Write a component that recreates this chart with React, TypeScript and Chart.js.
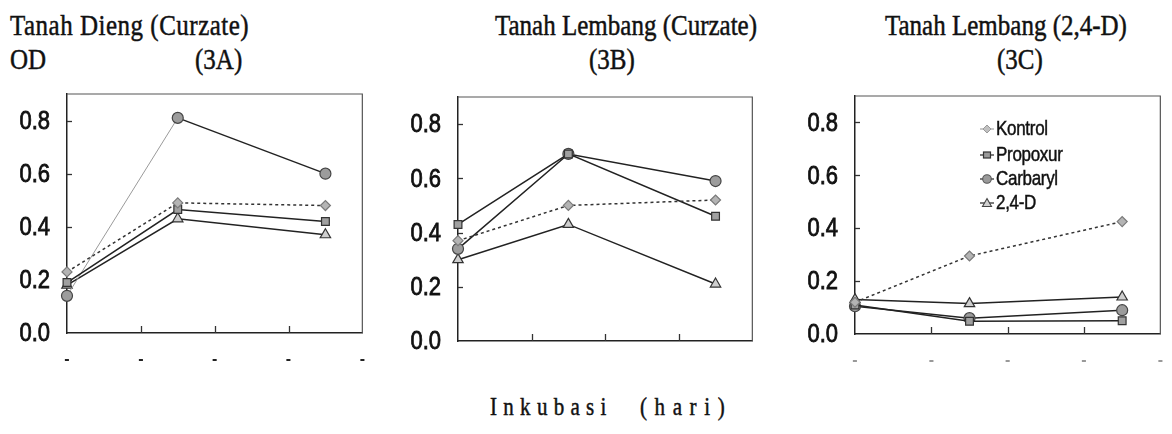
import React, { useEffect, useRef } from 'react';
import { Chart, registerables } from 'chart.js';
Chart.register(...registerables);

// ---- data ----
const days = [0, 1.5, 3.5];
const xTicks = [0, 1, 2, 3, 4];
const xTickLabels = ['-', '-', '-', '-', '-'];
const yTicks = [0, 0.2, 0.4, 0.6, 0.8];
const yTickLabels = ['0.0', '0.2', '0.4', '0.6', '0.8'];
const seriesNames = ['Kontrol', 'Propoxur', 'Carbaryl', '2,4-D'];

const kontrolA = [0.23, 0.49, 0.48];
const propoxurA = [0.19, 0.465, 0.42];
const carbarylA = [0.14, 0.81, 0.6];
const d24A = [0.18, 0.43, 0.37];

const kontrolB = [0.37, 0.5, 0.52];
const propoxurB = [0.43, 0.69, 0.46];
const carbarylB = [0.34, 0.69, 0.59];
const d24B = [0.3, 0.43, 0.21];

const kontrolC = [0.12, 0.295, 0.425];
const propoxurC = [0.11, 0.048, 0.05];
const carbarylC = [0.105, 0.06, 0.09];
const d24C = [0.13, 0.115, 0.14];

type PanelDef = {
  left: number; top: number; w: number; h: number;
  plot: { left: number; right: number; top: number; bottom: number };
  series: number[][];
  xLabelColor: string;
  thinFirst: boolean;
};

const panels: PanelDef[] = [
  { left: 0, top: 84, w: 382, h: 300, plot: { left: 67, right: 368, top: 94, bottom: 333 },
    series: [kontrolA, propoxurA, carbarylA, d24A], xLabelColor: '#222', thinFirst: true },
  { left: 390, top: 84, w: 382, h: 300, plot: { left: 458, right: 759, top: 97, bottom: 341 },
    series: [kontrolB, propoxurB, carbarylB, d24B], xLabelColor: 'rgba(0,0,0,0)', thinFirst: false },
  { left: 780, top: 84, w: 400, h: 300, plot: { left: 855, right: 1169, top: 96, bottom: 334 },
    series: [kontrolC, propoxurC, carbarylC, d24C], xLabelColor: '#999', thinFirst: false },
];

const styles = [
  { pointStyle: 'rectRot', r: 5, bg: '#b4b4b4', bd: '#7a7a7a', dash: [3, 3], line: '#333' },
  { pointStyle: 'rect', r: 5.5, bg: '#a0a0a0', bd: '#333', dash: [], line: '#222' },
  { pointStyle: 'circle', r: 5.5, bg: '#9c9c9c', bd: '#444', dash: [], line: '#222' },
  { pointStyle: 'triangle', r: 6, bg: '#cfcfcf', bd: '#333', dash: [], line: '#222' },
];

const boxPlugin = {
  id: 'boxPlugin',
  beforeDatasetsDraw(chart: any) {
    const { ctx, chartArea: a, scales } = chart;
    ctx.save();
    ctx.strokeStyle = '#555';
    ctx.lineWidth = 1.2;
    ctx.beginPath();
    ctx.moveTo(a.left, a.top);
    ctx.lineTo(a.right, a.top);
    ctx.lineTo(a.right, a.bottom);
    ctx.stroke();
    ctx.strokeStyle = '#333';
    ctx.lineWidth = 1.3;
    const xs = scales.x;
    xTicks.slice(1, -1).forEach((v) => {
      const px = Math.round(xs.getPixelForValue(v)) + 0.5;
      ctx.beginPath();
      ctx.moveTo(px, a.bottom);
      ctx.lineTo(px, a.bottom - 7);
      ctx.stroke();
    });
    const ys = scales.y;
    yTicks.slice(1).forEach((v) => {
      const py = Math.round(ys.getPixelForValue(v)) + 0.5;
      ctx.beginPath();
      ctx.moveTo(a.left, py);
      ctx.lineTo(a.left + 5, py);
      ctx.stroke();
    });
    ctx.restore();
  },
  afterDraw(chart: any) {
    const { ctx, scales } = chart;
    const ys = scales.y;
    ctx.save();
    ctx.fillStyle = '#111';
    ctx.strokeStyle = '#111';
    ctx.lineWidth = 0.7;
    ctx.font = '22px "Liberation Sans", Arial, sans-serif';
    ctx.textAlign = 'right';
    ctx.textBaseline = 'middle';
    yTicks.forEach((v, i) => {
      const py = ys.getPixelForValue(v);
      ctx.save();
      ctx.translate(ys.right - 17, py + 1);
      ctx.scale(1, 1.2);
      ctx.fillText(yTickLabels[i], 0, 0);
      ctx.strokeText(yTickLabels[i], 0, 0);
      ctx.restore();
    });
    ctx.restore();
  },
};

function Panel({ def }: { def: PanelDef }) {
  const ref = useRef<HTMLCanvasElement>(null);
  useEffect(() => {
    if (!ref.current) return;
    const p = def.plot;
    const yW = p.left - def.left;
    const topPad = p.top - def.top;
    const rightPad = def.left + def.w - p.right;
    const xH = def.top + def.h - p.bottom;
    const datasets = def.series.map((vals, si) => {
      const s = styles[si];
      const ds: any = {
        label: seriesNames[si],
        data: days.map((d, i) => ({ x: d, y: vals[i] })),
        borderColor: s.line,
        borderWidth: 1.5,
        borderDash: s.dash,
        pointStyle: s.pointStyle,
        pointRadius: s.r,
        pointBackgroundColor: s.bg,
        pointBorderColor: s.bd,
        pointBorderWidth: 1.2,
        tension: 0,
        clip: false,
      };
      if (def.thinFirst && si === 2) {
        ds.segment = {
          borderColor: (c: any) => (c.p0DataIndex === 0 ? '#9a9a9a' : '#222'),
          borderWidth: (c: any) => (c.p0DataIndex === 0 ? 1 : 1.5),
        };
      }
      return ds;
    });
    const chart = new Chart(ref.current, {
      type: 'line',
      data: { datasets },
      plugins: [boxPlugin],
      options: {
        animation: false,
        responsive: false,
        devicePixelRatio: 1,
        layout: { padding: { left: 0, top: topPad, right: rightPad, bottom: 0 } },
        plugins: { legend: { display: false }, tooltip: { enabled: false } },
        scales: {
          x: {
            type: 'linear',
            min: 0,
            max: 4,
            afterBuildTicks: (s: any) => { s.ticks = xTicks.map((v) => ({ value: v })); },
            afterFit: (s: any) => { s.height = xH; },
            grid: { drawOnChartArea: false, drawTicks: false },
            border: { display: true, color: '#222', width: 1.5 },
            ticks: {
              callback: (_v: any, i: number) => xTickLabels[i],
              color: def.xLabelColor,
              font: { size: 16, weight: 'bold', family: '"Liberation Sans", Arial' },
              padding: 17,
              autoSkip: false,
              maxRotation: 0,
            },
          },
          y: {
            type: 'linear',
            min: 0,
            max: 0.9,
            afterBuildTicks: (s: any) => { s.ticks = yTicks.map((v) => ({ value: v })); },
            afterFit: (s: any) => { s.width = yW; },
            grid: { drawOnChartArea: false, drawTicks: false },
            border: { display: true, color: '#222', width: 1.5 },
            ticks: { display: false },
          },
        },
      } as any,
    });
    return () => chart.destroy();
  }, [def]);
  return (
    <canvas
      ref={ref}
      width={def.w}
      height={def.h}
      style={{ position: 'absolute', left: def.left, top: def.top, width: def.w, height: def.h }}
    />
  );
}

const serif = '"Liberation Serif", "Times New Roman", serif';
const sans = '"Liberation Sans", Arial, sans-serif';

function T({ text, left, top, size = 25, spacing = 0 }: any) {
  return (
    <div
      style={{
        position: 'absolute',
        left,
        top,
        fontFamily: serif,
        fontSize: size,
        lineHeight: `${size}px`,
        whiteSpace: 'nowrap',
        color: '#111',
        letterSpacing: spacing,
        WebkitTextStroke: '0.4px #111',
        transform: 'scaleY(1.2)',
        transformOrigin: 'center',
      }}
    >
      {text}
    </div>
  );
}

function LegendMarker({ i }: { i: number }) {
  let shape: any = null;
  if (i === 0) shape = <polygon points="8,4 12,8 8,12 4,8" fill="#c0c0c0" stroke="#9a9a9a" strokeWidth={1} />;
  if (i === 1) shape = <rect x={4.5} y={5} width={7} height={6} fill="#9a9a9a" stroke="#333" strokeWidth={1.2} />;
  if (i === 2) shape = <circle cx={8} cy={8} r={4.3} fill="#9a9a9a" stroke="#555" strokeWidth={1.1} />;
  if (i === 3) shape = <polygon points="8,3.5 12.5,11.5 3.5,11.5" fill="#d0d0d0" stroke="#444" strokeWidth={1.1} />;
  return (
    <svg width={16} height={16} style={{ position: 'absolute', left: 0, top: 2 }}>
      <line x1={1} y1={8} x2={15} y2={8} stroke={i === 0 ? '#aaa' : '#333'} strokeWidth={1.3} />
      {shape}
    </svg>
  );
}

export default function App() {
  const rows = [129, 155, 179, 203];
  return (
    <div style={{ position: 'absolute', left: 0, top: 0, width: 1172, height: 434, overflow: 'hidden', background: '#fff' }}>
      {panels.map((p, i) => <Panel key={i} def={p} />)}
      <T text="Tanah Dieng (Curzate)" left={10} top={12} spacing={0.5} />
      <T text="OD" left={10} top={46} />
      <T text="(3A)" left={195} top={46} />
      <T text="Tanah Lembang (Curzate)" left={495} top={12} />
      <T text="(3B)" left={589} top={46} />
      <T text="Tanah Lembang (2,4-D)" left={885} top={12} />
      <T text="(3C)" left={997} top={46} />
      <T text="Inkubasi" left={490} top={397} size={21} spacing={6.3} />
      <T text="(hari)" left={640} top={397} size={21} spacing={7.6} />
      {seriesNames.map((n, i) => (
        <div key={n} style={{ position: 'absolute', left: 979, top: rows[i] - 10, height: 20, width: 120 }}>
          <LegendMarker i={i} />
          <div
            style={{
              position: 'absolute',
              left: 17,
              top: 0,
              fontFamily: sans,
              fontSize: 17,
              lineHeight: '20px',
              color: '#111',
              whiteSpace: 'nowrap',
              letterSpacing: -0.3,
              WebkitTextStroke: '0.4px #111',
              transform: 'scaleY(1.2)',
              transformOrigin: 'center',
            }}
          >
            {n}
          </div>
        </div>
      ))}
    </div>
  );
}
